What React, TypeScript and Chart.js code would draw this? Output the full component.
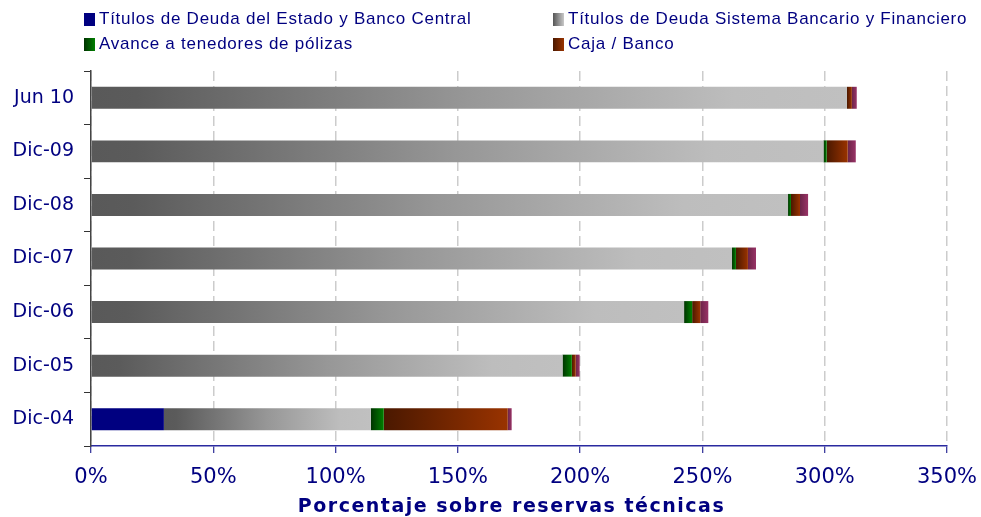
import React, { useEffect, useRef } from 'react';
import { Chart, registerables } from 'chart.js';

Chart.register(...registerables);

const categories = ['Jun 10', 'Dic-09', 'Dic-08', 'Dic-07', 'Dic-06', 'Dic-05', 'Dic-04'];
const estado = [0, 0, 0, 0, 0, 0, 29.8];
const bancario = [309.1, 299.5, 285.0, 262.1, 242.5, 192.8, 84.6];
const avance = [0, 1.3, 1.2, 1.6, 3.3, 3.8, 5.3];
const caja = [2.0, 8.6, 3.7, 4.9, 3.3, 1.6, 50.7];
const otros = [2.0, 3.3, 3.3, 3.3, 3.3, 1.6, 1.6];
const seriesNames = [
  'Títulos de Deuda del Estado y Banco Central',
  'Títulos de Deuda Sistema Bancario y Financiero',
  'Avance a tenedores de pólizas',
  'Caja / Banco',
  'Otros',
];
const xMin = 0;
const xMax = 350;
const xStep = 50;
const axisTitle = 'Porcentaje sobre reservas técnicas';

const NAVY = '#000080';
const seriesValues = [estado, bancario, avance, caja, otros];
const gradients: [number, string][][] = [
  [[0, '#000080'], [1, '#000080']],
  [[0, '#595959'], [0.06, '#5b5b5b'], [0.5, '#979797'], [0.85, '#bdbdbd'], [1, '#c0c0c0']],
  [[0, '#003300'], [1, '#008000']],
  [[0, '#4a1800'], [1, '#993300']],
  [[0, '#6b2448'], [1, '#993366']],
];

function bgFor(ds: number) {
  return (ctx: any) => {
    const chart = ctx.chart;
    const stops = gradients[ds];
    if (ctx.type !== 'data' || !chart.chartArea || !chart.scales.x) return stops[stops.length - 1][1];
    const i = ctx.dataIndex;
    let start = 0;
    for (let k = 0; k < ds; k++) start += seriesValues[k][i];
    const val = seriesValues[ds][i];
    const x0 = chart.scales.x.getPixelForValue(start);
    let x1 = chart.scales.x.getPixelForValue(start + val);
    if (x1 - x0 < 1) x1 = x0 + 1;
    const g = chart.ctx.createLinearGradient(x0, 0, x1, 0);
    stops.forEach(([o, c]) => g.addColorStop(o, c));
    return g;
  };
}

const legendItems = [
  { label: seriesNames[0], left: 84, top: 11, bg: '#000080' },
  { label: seriesNames[1], left: 553, top: 11, bg: 'linear-gradient(to right, #555555, #c8c8c8)' },
  { label: seriesNames[2], left: 84, top: 36, bg: 'linear-gradient(to right, #003300, #008000)' },
  { label: seriesNames[3], left: 553, top: 36, bg: 'linear-gradient(to right, #4a1800, #993300)' },
];

export default function App() {
  const ref = useRef<HTMLCanvasElement | null>(null);
  useEffect(() => {
    if (!ref.current) return;
    const chart = new Chart(ref.current, {
      type: 'bar',
      data: {
        labels: categories,
        datasets: seriesValues.map((vals, ds) => ({
          label: seriesNames[ds],
          data: vals,
          backgroundColor: bgFor(ds),
          borderWidth: 0,
          categoryPercentage: 1,
          barPercentage: 0.41,
        })),
      },
      options: {
        indexAxis: 'y',
        responsive: false,
        animation: false,
        devicePixelRatio: 1,
        layout: { padding: { top: 71, right: 34, bottom: 0, left: 0 } },
        plugins: { legend: { display: false }, tooltip: { enabled: false } },
        scales: {
          x: {
            stacked: true,
            min: xMin,
            max: xMax,
            ticks: {
              stepSize: xStep,
              callback: (v: any) => v + '%',
              color: NAVY,
              font: { family: 'DejaVu Sans', size: 21 },
              padding: 12,
              maxRotation: 0,
            },
            grid: {
              color: '#cccccc',
              lineWidth: 1.5,
              tickColor: NAVY,
              tickLength: 7,
              tickWidth: 1,
            },
            border: { color: '#2a2aa0', width: 1.5, dash: [10, 5] },
            title: { display: false, text: axisTitle },
            afterFit: (s: any) => { s.height = 71; s.paddingLeft = 0; s.paddingRight = 0; },
          },
          y: {
            stacked: true,
            ticks: {
              color: NAVY,
              font: { family: 'DejaVu Sans', size: 19 },
              padding: 10,
            },
            grid: {
              drawOnChartArea: false,
              drawTicks: true,
              tickLength: 7,
              tickColor: '#333333',
              offset: true,
            },
            border: { color: '#444444', width: 1.5 },
            afterFit: (s: any) => { s.width = 91; s.paddingTop = 0; s.paddingBottom = 0; },
          },
        },
      },
    } as any);
    return () => chart.destroy();
  }, []);

  return (
    <div style={{ position: 'absolute', left: 0, top: 0, width: 981, height: 517, background: '#fff', overflow: 'hidden' }}>
      <canvas ref={ref} width={981} height={517} style={{ position: 'absolute', left: 0, top: 0 }} />
      {legendItems.map((it) => (
        <div key={it.label} style={{ position: 'absolute', left: it.left, top: it.top, height: 16, display: 'flex', alignItems: 'center', whiteSpace: 'nowrap' }}>
          <span style={{ display: 'inline-block', width: 11, height: 13, background: it.bg, marginRight: 4 }} />
          <span style={{ fontFamily: '"Liberation Sans", Arial, sans-serif', fontSize: 17, letterSpacing: '0.75px', color: NAVY, lineHeight: '16px' }}>{it.label}</span>
        </div>
      ))}
      <div style={{ position: 'absolute', left: 0, width: 981, top: 494, textAlign: 'center', paddingLeft: 42, boxSizing: 'border-box', fontFamily: '"DejaVu Sans", sans-serif', fontWeight: 'bold', fontSize: 19, letterSpacing: '1.5px', color: NAVY, lineHeight: '22px', whiteSpace: 'nowrap' }}>
        {axisTitle}
      </div>
    </div>
  );
}
